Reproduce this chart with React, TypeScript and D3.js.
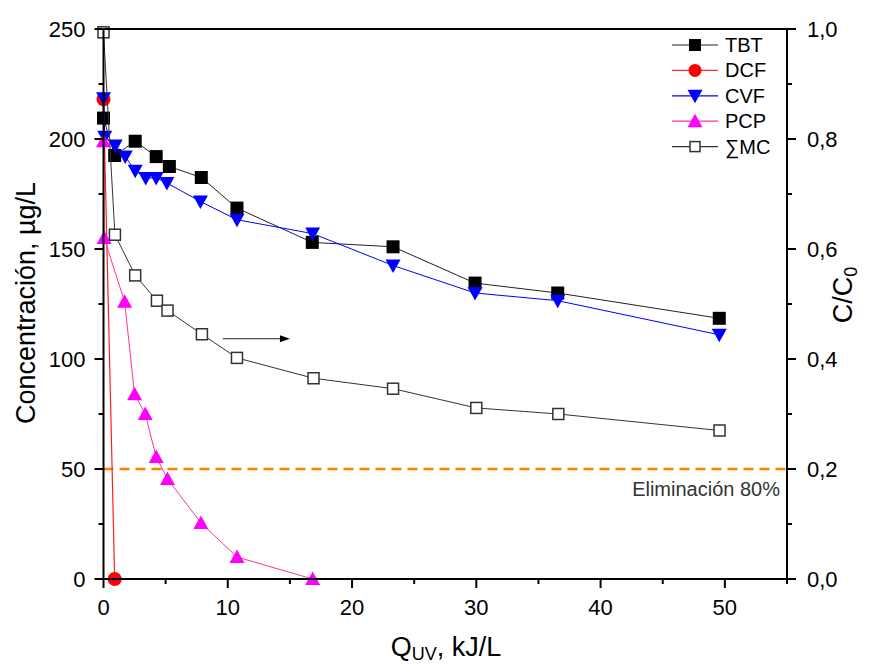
import React from "react";
import * as d3 from "d3";

const tbtX = [0, 0.9, 2.55, 4.24, 5.3, 7.87, 10.74, 16.8, 23.3, 29.9, 36.55, 49.55];
const tbtY = [209.5, 192.5, 199, 192, 187.5, 182.5, 168.6, 153, 151, 134.5, 130, 118.5];

const dcfX = [0, 0.9];
const dcfY = [218, 0];

const cvfX = [0, 0.1, 0.94, 1.75, 2.55, 3.4, 4.24, 5.1, 7.8, 10.74, 16.83, 23.3, 29.9, 36.55, 49.55];
const cvfY = [218.5, 201, 197, 192, 185.6, 182.3, 182.3, 180, 171.6, 163.3, 157, 142.5, 130, 126.5, 111];

const pcpX = [0, 0.05, 1.7, 2.5, 3.36, 4.24, 5.15, 7.84, 10.74, 16.83];
const pcpY = [199, 155, 126, 84, 75, 55.4, 45.5, 25.5, 10, 0];

const mcX = [0, 0.92, 2.55, 4.3, 5.15, 7.92, 10.74, 16.9, 23.3, 30.0, 36.6, 49.57];
const mcY = [0.994, 0.626, 0.552, 0.506, 0.488, 0.445, 0.402, 0.365, 0.346, 0.311, 0.3, 0.27];

const leftTicks = [0, 50, 100, 150, 200, 250];
const rightTicks = [0, 0.2, 0.4, 0.6, 0.8, 1.0];
const xTicks = [0, 10, 20, 30, 40, 50];
const threshold = 50;
const arrowX = [9.6, 15.0];
const arrowY = 109.2;

const W = 869, H = 665;
const FONT = "'Liberation Sans', Arial, sans-serif";

export default function App() {
  const x = d3.scaleLinear().domain([0, 55]).range([103.5, 787]);
  const y = d3.scaleLinear().domain([0, 250]).range([579, 29]);
  const yR = d3.scaleLinear().domain([0, 1]).range([579, 29]);

  const zip = (xs: number[], ys: number[]) => xs.map((v, i) => [v, ys[i]] as [number, number]);
  const lineL = d3.line<[number, number]>().x(d => x(d[0])).y(d => y(d[1]));
  const lineR = d3.line<[number, number]>().x(d => x(d[0])).y(d => yR(d[1]));

  const square = (cx: number, cy: number, s: number, fill: string, stroke: string, sw: number, key: any) => (
    <rect key={key} x={cx - s / 2} y={cy - s / 2} width={s} height={s} fill={fill} stroke={stroke} strokeWidth={sw} />
  );
  const triDown = (cx: number, cy: number, fill: string, key: any) => (
    <path key={key} d={`M${cx - 7.5},${cy - 6} L${cx + 7.5},${cy - 6} L${cx},${cy + 7.5} Z`} fill={fill} />
  );
  const triUp = (cx: number, cy: number, fill: string, key: any) => (
    <path key={key} d={`M${cx - 7.5},${cy + 6} L${cx + 7.5},${cy + 6} L${cx},${cy - 7.5} Z`} fill={fill} />
  );

  const x0 = x.range()[0], x1 = x.range()[1];
  const yb = y.range()[0], yt = y.range()[1];

  const minorL = d3.range(25, 250, 50);
  const minorR = d3.range(0.1, 1, 0.2);
  const minorX = d3.range(5, 56, 10);

  const legend = [
    { name: "TBT", line: "#222", kind: "sq" },
    { name: "DCF", line: "#FF3030", kind: "circ" },
    { name: "CVF", line: "#0000FF", kind: "down" },
    { name: "PCP", line: "#FF3399", kind: "up" },
    { name: "\u2211MC", line: "#333", kind: "hsq" },
  ];

  return (
    <svg width={W} height={H} style={{ position: "absolute", left: 0, top: 0, background: "#fff" }} fontFamily={FONT}>
      <rect x={0} y={0} width={W} height={H} fill="#fff" />

      {/* threshold */}
      <line x1={x0} x2={x1} y1={y(threshold)} y2={y(threshold)} stroke="#FF8000" strokeWidth={2.5} strokeDasharray="10,6" />
      <text x={780} y={496} textAnchor="end" fontSize={20} fill="#333">Eliminación 80%</text>

      {/* TBT */}
      <path d={lineL(zip(tbtX, tbtY)) || ""} fill="none" stroke="#222" strokeWidth={1} />
      {zip(tbtX, tbtY).map((d, i) => square(x(d[0]), y(d[1]), 13, "#000", "none", 0, "t" + i))}

      {/* DCF */}
      <path d={lineL(zip(dcfX, dcfY)) || ""} fill="none" stroke="#FF2020" strokeWidth={1.2} />
      {zip(dcfX, dcfY).map((d, i) => <circle key={"d" + i} cx={x(d[0])} cy={y(d[1])} r={7} fill="#FF0000" />)}

      {/* CVF */}
      <path d={lineL(zip(cvfX, cvfY)) || ""} fill="none" stroke="#0000FF" strokeWidth={1} />
      {zip(cvfX, cvfY).map((d, i) => triDown(x(d[0]), y(d[1]), "#0000FF", "c" + i))}

      {/* PCP */}
      <path d={lineL(zip(pcpX, pcpY)) || ""} fill="none" stroke="#FF3399" strokeWidth={1} />
      {zip(pcpX, pcpY).map((d, i) => triUp(x(d[0]), y(d[1]), "#FF00FF", "p" + i))}

      {/* Sum MC */}
      <path d={lineR(zip(mcX, mcY)) || ""} fill="none" stroke="#333" strokeWidth={1} />
      {zip(mcX, mcY).map((d, i) => square(x(d[0]), yR(d[1]), 11, "#fff", "#333", 1.5, "m" + i))}

      {/* arrow */}
      <line x1={x(arrowX[0])} x2={x(arrowX[1]) - 8} y1={y(arrowY)} y2={y(arrowY)} stroke="#222" strokeWidth={1.2} />
      <path d={`M${x(arrowX[1]) - 10},${y(arrowY) - 3.5} L${x(arrowX[1])},${y(arrowY)} L${x(arrowX[1]) - 10},${y(arrowY) + 3.5} Z`} fill="#000" />

      {/* axes frame */}
      <line x1={x0} x2={x1} y1={yt} y2={yt} stroke="#000" strokeWidth={2} />
      <line x1={x0} x2={x1} y1={yb} y2={yb} stroke="#000" strokeWidth={2} />
      <line x1={x0} x2={x0} y1={yt} y2={yb} stroke="#000" strokeWidth={2} />
      <line x1={x1} x2={x1} y1={yt} y2={yb} stroke="#000" strokeWidth={2} />

      {/* left ticks */}
      {leftTicks.map(t => (
        <g key={"lt" + t}>
          <line x1={x0 - 9} x2={x0} y1={y(t)} y2={y(t)} stroke="#000" strokeWidth={2} />
          <text x={x0 - 18} y={y(t) + 8} textAnchor="end" fontSize={22} fill="#000">{t}</text>
        </g>
      ))}
      {minorL.map(t => <line key={"lm" + t} x1={x0 - 5} x2={x0} y1={y(t)} y2={y(t)} stroke="#000" strokeWidth={2} />)}

      {/* right ticks */}
      {rightTicks.map(t => (
        <g key={"rt" + t}>
          <line x1={x1} x2={x1 + 9} y1={yR(t)} y2={yR(t)} stroke="#000" strokeWidth={2} />
          <text x={x1 + 20} y={yR(t) + 8} textAnchor="start" fontSize={22} fill="#000">{t.toFixed(1).replace(".", ",")}</text>
        </g>
      ))}
      {minorR.map(t => <line key={"rm" + t} x1={x1} x2={x1 + 5} y1={yR(t)} y2={yR(t)} stroke="#000" strokeWidth={2} />)}

      {/* bottom ticks */}
      {xTicks.map(t => (
        <g key={"xt" + t}>
          <line x1={x(t)} x2={x(t)} y1={yb} y2={yb + 9} stroke="#000" strokeWidth={2} />
          <text x={x(t)} y={615} textAnchor="middle" fontSize={22} fill="#000">{t}</text>
        </g>
      ))}
      {minorX.map(t => <line key={"xm" + t} x1={x(t)} x2={x(t)} y1={yb} y2={yb + 5} stroke="#000" strokeWidth={2} />)}

      {/* axis titles */}
      <text transform="translate(35,303) rotate(-90)" textAnchor="middle" fontSize={27} fill="#000">Concentración, µg/L</text>
      <text x={446} y={656} textAnchor="middle" fontSize={27} fill="#000">
        Q<tspan fontSize={18} dy={4}>UV</tspan><tspan dy={-4}>, kJ/L</tspan>
      </text>
      <text transform="translate(852,295) rotate(-90)" textAnchor="middle" fontSize={27} fill="#000">
        C/C<tspan fontSize={18} dy={5}>0</tspan>
      </text>

      {/* legend */}
      {legend.map((l, i) => {
        const ly = 45 + i * 25.4;
        const lx0 = 672, lx1 = 718, mx = 695;
        let m: any = null;
        if (l.kind === "sq") m = square(mx, ly, 12, "#000", "none", 0, "k");
        if (l.kind === "circ") m = <circle cx={mx} cy={ly} r={6.5} fill="#FF0000" />;
        if (l.kind === "down") m = triDown(mx, ly, "#0000FF", "k");
        if (l.kind === "up") m = triUp(mx, ly, "#FF00FF", "k");
        if (l.kind === "hsq") m = square(mx, ly, 10, "#fff", "#333", 1.5, "k");
        return (
          <g key={"lg" + i}>
            <line x1={lx0} x2={lx1} y1={ly} y2={ly} stroke={l.line} strokeWidth={1.2} />
            {m}
            <text x={725} y={ly + 7} fontSize={20} fill="#000">{l.name}</text>
          </g>
        );
      })}
    </svg>
  );
}
